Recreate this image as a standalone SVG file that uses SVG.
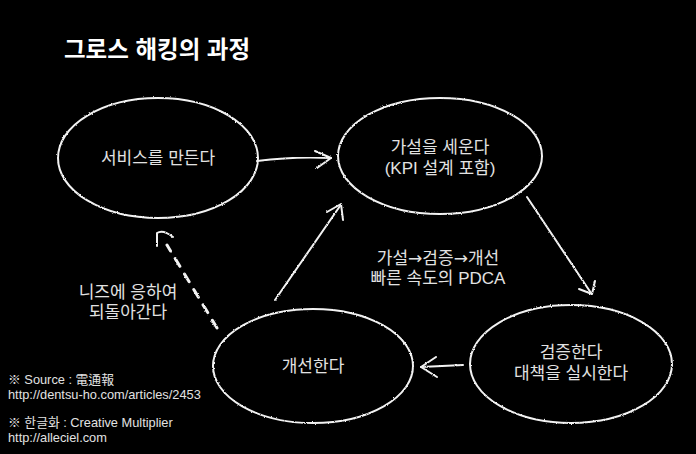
<svg xmlns="http://www.w3.org/2000/svg" width="696" height="454" viewBox="0 0 696 454">
<defs>
<filter id="chalk" x="-5%" y="-5%" width="110%" height="110%">
<feTurbulence type="fractalNoise" baseFrequency="0.9" numOctaves="2" seed="3" result="n"/>
<feDisplacementMap in="SourceGraphic" in2="n" scale="2.2" xChannelSelector="R" yChannelSelector="G"/>
</filter>
</defs>
<style>
text{font-family:"Liberation Sans","Noto Sans CJK KR",sans-serif;fill:#e2e2e2;}
.lbl{font-size:17px;text-anchor:middle;}
.note{font-size:12.8px;}
.arr{font-family:"DejaVu Sans","Noto Sans CJK KR",sans-serif;}
.shape{fill:none;stroke:#f2f2f2;stroke-width:2;stroke-linecap:round;stroke-linejoin:round;filter:url(#chalk);}
.dash{stroke-dasharray:9 9;stroke-width:3;}
</style>
<rect width="696" height="454" fill="#000"/>
<g id="title">
<text x="64" y="58" style="font-size:23.5px;font-weight:bold;fill:#fff">그로스 해킹의 과정</text>
<path class="shape" d="M38 70 L282 70" style="stroke-width:1.5;stroke-dasharray:14 2 6 1"/>
</g>
<g id="node-make">
<ellipse class="shape" cx="158" cy="158" rx="100" ry="60"/>
<text class="lbl" x="158" y="164">서비스를 만든다</text>
</g>
<g id="node-hypothesis">
<ellipse class="shape" cx="440" cy="156" rx="102" ry="58"/>
<text class="lbl" x="440" y="153">가설을 세운다</text>
<text class="lbl" x="440" y="174">(KPI 설계 포함)</text>
</g>
<g id="node-verify">
<ellipse class="shape" cx="571" cy="364" rx="101" ry="59"/>
<text class="lbl" x="571" y="358">검증한다</text>
<text class="lbl" x="571" y="379">대책을 실시한다</text>
</g>
<g id="node-improve">
<ellipse class="shape" cx="313" cy="366" rx="100" ry="57"/>
<text class="lbl" x="313" y="372">개선한다</text>
</g>
<g id="connectors">
<path class="shape" d="M257 161 Q295 156 331 158"/>
<path class="shape" d="M315 151 L331 158 L317 168"/>
<path class="shape" d="M275 300 L340 206"/>
<path class="shape" d="M327 212 L341 204 L343 220"/>
<path class="shape" d="M527 197 L591 293"/>
<path class="shape" d="M579 289 L592 294 L595 281"/>
<path class="shape" d="M463 365 L421 367"/>
<path class="shape" d="M436 357 L421 367 L437 377"/>
<path class="shape dash" d="M217 328 L167 245"/>
<path class="shape" d="M157 246 L157 233 Q163 229 173 237"/>
</g>
<g id="labels">
<text class="lbl" x="438" y="264">가설<tspan class="arr">→</tspan>검증<tspan class="arr">→</tspan>개선</text>
<text class="lbl" x="438" y="284">빠른 속도의 PDCA</text>
<text class="lbl" x="128" y="298">니즈에 응하여</text>
<text class="lbl" x="128" y="318">되돌아간다</text>
</g>
<g id="notes">
<text class="note" x="8" y="384">※ Source : 電通報</text>
<text class="note" x="8" y="398.5">http://dentsu-ho.com/articles/2453</text>
<text class="note" x="8" y="427">※ 한글화 : Creative Multiplier</text>
<text class="note" x="8" y="441.5">http://alleciel.com</text>
</g>
</svg>
